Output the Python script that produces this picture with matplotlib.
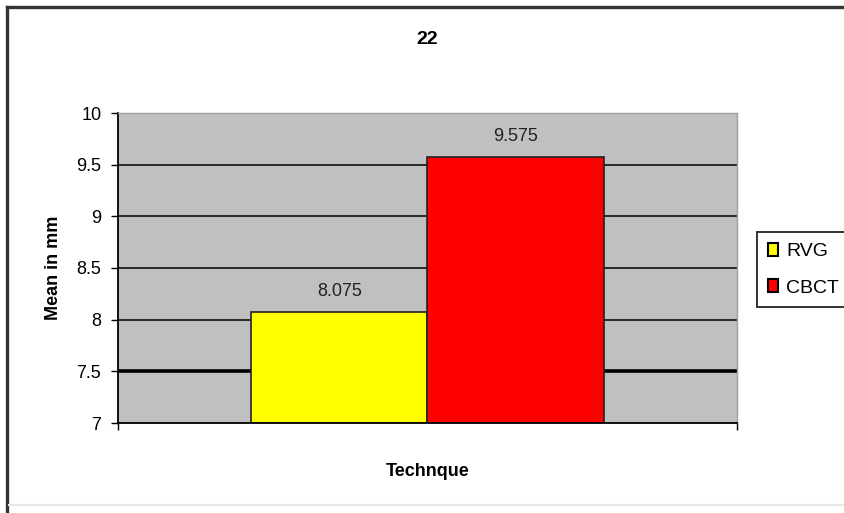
import matplotlib
matplotlib.use("Agg")
import matplotlib.pyplot as plt
from matplotlib.lines import Line2D
from matplotlib.patches import Rectangle

plt.rcParams["font.family"] = ["Liberation Sans", "DejaVu Sans"]

# ── data ──────────────────────────────────────────────────────────────────────
series = ["RVG", "CBCT"]
means = [8.075, 9.575]
colors = ["#FFFF00", "#FF0000"]
y_ticks = [7, 7.5, 8, 8.5, 9, 9.5, 10]
title = "22"

W, H = 845, 513
fig = plt.figure(figsize=(W / 100, H / 100), dpi=100, facecolor="white")

# outer chart frame: dark top/left, faint bottom
fx, fy = 7 / W, 1 - 7 / H
fb = 1 - 505 / H
fig.lines.append(Line2D([fx, 1.0], [fy, fy], transform=fig.transFigure,
                        color="#333333", linewidth=2.4, solid_capstyle="projecting"))
fig.lines.append(Line2D([fx, fx], [0.0, fy], transform=fig.transFigure,
                        color="#333333", linewidth=2.4, solid_capstyle="projecting"))
fig.lines.append(Line2D([fx + 2 / W, 1.0], [fb, fb], transform=fig.transFigure,
                        color="#E6E6E6", linewidth=1.5))

ax = fig.add_axes([118 / W, 1 - 423 / H, (737 - 118) / W, (423 - 113) / H])
ax.set_facecolor("#C0C0C0")

# gridlines
for t in y_ticks[1:-1]:
    ax.axhline(t, color="black", linewidth=2.6 if t == 7.5 else 1.1, zorder=1)

bar_w = 0.285
xs = [-bar_w / 2, bar_w / 2]
ax.bar(xs, [m - 7 for m in means], bottom=7, width=bar_w, color=colors,
       edgecolor="#222222", linewidth=1.2, zorder=2)
for x, m in zip(xs, means):
    ax.text(x, m + 0.12, f"{m:g}", ha="center", va="bottom", fontsize=13,
            color="#222222", zorder=3)

ax.set_xlim(-0.5, 0.5)
ax.set_ylim(7, 10)
ax.set_yticks(y_ticks)
ax.set_yticklabels([f"{t:g}" for t in y_ticks], fontsize=13)
ax.set_xticks([-0.5, 0.5])
ax.set_xticklabels(["", ""])
ax.tick_params(axis="both", direction="out", length=5, width=1, color="black")
ax.tick_params(axis="y", pad=7)

for side in ("top", "right"):
    ax.spines[side].set_color("#A0A0A0")
    ax.spines[side].set_linewidth(1)
for side in ("left", "bottom"):
    ax.spines[side].set_color("black")
    ax.spines[side].set_linewidth(1.3)

ax.set_ylabel("Mean in mm", fontsize=13, fontweight="bold", labelpad=10)
ax.set_xlabel("Technque", fontsize=13, fontweight="bold", labelpad=20)
fig.text((118 + 737) / 2 / W, 1 - 40 / H, title, ha="center", va="center",
         fontsize=14, fontweight="bold")

handles = [Rectangle((0, 0), 1, 1, facecolor=c, edgecolor="black", linewidth=1.5)
           for c in colors]
leg = fig.legend(handles, series, loc="upper left",
                 bbox_to_anchor=(757 / W, 1 - 232 / H), fontsize=14,
                 frameon=True, fancybox=False, edgecolor="black",
                 handlelength=0.55, handleheight=0.65, handletextpad=0.4,
                 borderpad=0.55, labelspacing=1.0, borderaxespad=0)
leg.get_frame().set_linewidth(1.4)

fig.savefig("out.png", dpi=100, facecolor="white")
